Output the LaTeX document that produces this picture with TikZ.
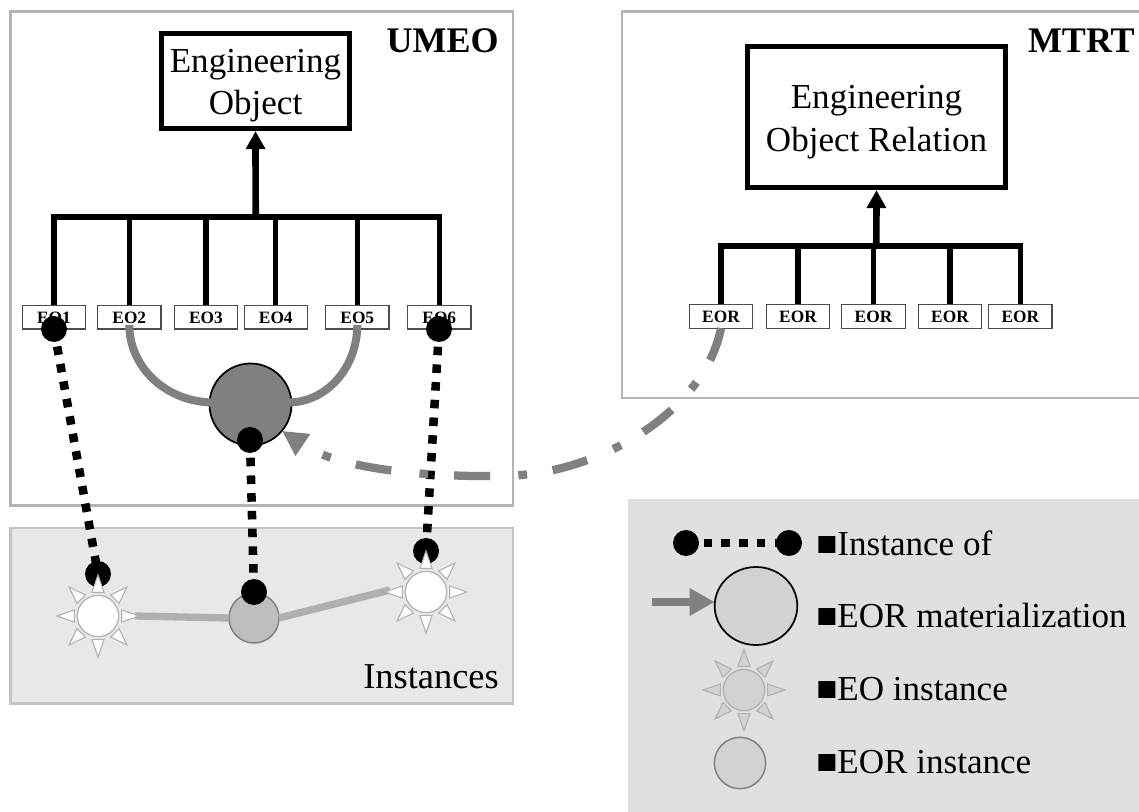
\documentclass[tikz,border=0pt]{standalone}
\usepackage{fontspec}
\setmainfont{Liberation Serif}
\usetikzlibrary{arrows.meta,shapes.geometric}
\definecolor{frameg}{HTML}{B4B4B4}
\definecolor{instg}{HTML}{C4C4C4}
\definecolor{instfill}{HTML}{E8E8E8}
\definecolor{legfill}{HTML}{E0E0E0}
\definecolor{midg}{HTML}{808080}
\definecolor{lineg}{HTML}{B0B0B0}
\definecolor{softg}{HTML}{D2D2D2}
\definecolor{instc}{HTML}{BEBEBE}
\tikzset{
  x=0.75pt,y=-0.75pt,
  bigtext/.style={font=\fontsize{26.3}{31}\selectfont,inner sep=0pt,align=center},
  boldtext/.style={font=\fontsize{27}{31}\selectfont\bfseries,inner sep=0pt},
  classbox/.style={draw=black,line width=4pt,fill=white,inner sep=0pt},
  leaf/.style={draw=black!70,line width=0.8pt,fill=white,minimum width=47.5pt,minimum height=17.7pt,inner sep=0pt,outer sep=0pt,text height=10pt,text depth=0pt,font=\fontsize{13}{15}\selectfont\bfseries},
  isa/.style={line width=4pt,draw=black},
  isaarrow/.style={line width=5pt,draw=black,-{Triangle[length=13.5pt,width=14pt]}},
  hook/.style={line width=6pt,draw=midg},
  dotline/.style={line width=6.4pt,draw=black,dash pattern=on 6.4pt off 6.9pt},
  blackdot/.style={circle,fill=black,inner sep=0pt,minimum size=19.5pt,outer sep=0pt},
  sundisc/.style={circle,draw=lineg,line width=0.9pt,inner sep=0pt,minimum size=31pt,outer sep=0pt},
  rayshape/.style={draw=lineg,line width=0.8pt,line join=miter},
  link/.style={line width=5.5pt,draw=lineg},
  legtext/.style={font=\fontsize{26.3}{31}\selectfont,inner sep=0pt,anchor=base west},
}
\newcommand{\sunrays}[2]{%
  \foreach \a in {0,45,...,315}{%
    \draw[rayshape,fill=#2,shift={(#1)}] (\a:41) -- (\a+14.2:24.45) -- (\a-14.2:24.45) -- cycle;}%
}
\begin{document}
\begin{tikzpicture}
\useasboundingbox (0,0) rectangle (1139,812);
% frames
\node[draw=frameg,line width=1.9pt,minimum width=377pt,minimum height=370.5pt,inner sep=0pt,outer sep=0pt] (umeo) at (261.7,258.3) {};
\draw[frameg,line width=1.9pt] (1139,11.5) -- (622,11.5) -- (622,398) -- (1139,398);
\node[draw=instg,fill=instfill,line width=1.9pt,minimum width=377pt,minimum height=131.5pt,inner sep=0pt,outer sep=0pt] (inst) at (261.7,615.7) {};
\node[fill=legfill,minimum width=383.3pt,minimum height=234.75pt,inner sep=0pt,outer sep=0pt] (legend) at (883.5,655.5) {};
% titles
\node[boldtext,anchor=base east] (umeot) at (499,53) {UMEO};
\node[boldtext,anchor=base east] (mtrtt) at (1135,53) {MTRT};
\node[bigtext,font=\fontsize{27.3}{31}\selectfont,anchor=base east] (instt) at (499,688) {Instances};
% class boxes
\node[classbox,minimum width=141pt,minimum height=71.25pt] (eo) at (255.5,81) {};
\node[bigtext] (eot) at (255.5,85.5) {Engineering\\[0.8pt]Object};
\node[classbox,minimum width=193.5pt,minimum height=105.75pt] (eor) at (876.5,117) {};
\node[bigtext] (eort) at (876.5,122) {Engineering\\[1.2pt]Object Relation};
% leaves UMEO
\node[leaf] (e1) at (54,317.2) {EO1};
\node[leaf] (e2) at (129.3,317.2) {EO2};
\node[leaf] (e3) at (206,317.2) {EO3};
\node[leaf] (e4) at (275.8,317.2) {EO4};
\node[leaf] (e5) at (357.3,317.2) {EO5};
\node[leaf] (e6) at (439.3,317.2) {EO6};
% leaves MTRT
\node[leaf] (r1) at (721,316.3) {EOR};
\node[leaf] (r2) at (798,316.3) {EOR};
\node[leaf] (r3) at (873.5,316.3) {EOR};
\node[leaf] (r4) at (950,316.3) {EOR};
\node[leaf] (r5) at (1020.3,316.3) {EOR};
% trees
\coordinate (busa) at (255.7,217);
\coordinate (busb) at (876.3,246);
\draw[isa,line join=miter] (e1.north) -- (e1.north |- busa) -- (e6.north |- busa) -- (e6.north);
\foreach \n in {e2,e3,e4,e5}{\draw[isa] (\n.north) -- (\n.north |- busa);}
\draw[isaarrow] (busa) -- (eo.south);
\draw[isa,line join=miter] (r1.north) -- (r1.north |- busb) -- (r5.north |- busb) -- (r5.north);
\foreach \n in {r2,r3,r4}{\draw[isa] (\n.north) -- (\n.north |- busb);}
\draw[isaarrow] (busb) -- (eor.south);
% materialization
\node[circle,draw=black,line width=1.3pt,fill=midg,inner sep=0pt,minimum size=61.5pt,outer sep=0pt] (mat) at (250.5,404.5) {};
\coordinate (hl) at (214,402.5);
\coordinate (hr) at (288,402.5);
\draw[hook] ([yshift=3pt]e2.south) .. controls (129.3,367) and (166,402.5) .. (hl);
\draw[hook] ([yshift=3pt]e5.south) .. controls (357.3,367) and (327,402.5) .. (hr);
% instance links
\node[circle,draw=midg,line width=1.1pt,fill=instc,inner sep=0pt,minimum size=37.5pt,outer sep=0pt] (ei) at (254,618) {};
\coordinate (s1e) at (135,616);
\coordinate (s2w) at (390,590);
\draw[link] (s1e) -- (ei.west);
\draw[link] (ei.east) -- (s2w);
% instance-of lines and dots
\node[blackdot] (d1) at (54,329) {};
\node[blackdot] (d2) at (439,329) {};
\node[blackdot] (d3) at (250,440) {};
\node[blackdot] (d4) at (98,574) {};
\node[blackdot] (d5) at (426,551) {};
\node[blackdot] (d6) at (254,592) {};
\draw[dotline] (d1.center) -- (d4.center);
\draw[dotline] (d2.center) -- (d5.center);
\draw[dotline] (d3.center) -- (d6.center);
% suns
\sunrays{98,616}{white}
\node[sundisc,fill=white] (s1) at (98,616) {};
\sunrays{426,592}{white}
\node[sundisc,fill=white] (s2) at (426,592) {};
% dash-dot arrow
\coordinate (curvemid) at (500,476);
\draw[midg,line width=6.2pt,dash pattern=on 27pt off 19.5pt on 6.5pt off 21.25pt,dash phase=1.5pt,-{Triangle[length=19pt,width=18.5pt]}]
  (r1.south) .. controls (705,410) and (600,476) .. (curvemid) .. controls (430,477) and (340,470) .. (mat.-40);
% legend
\node[blackdot] (l1) at (686,543) {};
\node[blackdot] (l2) at (789,543) {};
\draw[dotline] (l1.center) -- (l2.center);
\node[ellipse,draw=black,line width=1.3pt,fill=softg,inner sep=0pt,minimum width=62pt,minimum height=58.5pt,outer sep=0pt] (l3) at (756,606) {};
\coordinate (l3t) at (652,602);
\draw[midg,line width=6.5pt,-{Triangle[length=18.75pt,width=19.5pt]}] (l3t) -- (l3t -| l3.west);
\sunrays{744,690}{softg}
\node[sundisc,fill=softg] (l4) at (744,690) {};
\node[circle,draw=midg,line width=1.1pt,fill=softg,inner sep=0pt,minimum size=38.5pt,outer sep=0pt] (l5) at (740,763) {};
\node[legtext] (t1) at (816,556) {■Instance of};
\node[legtext] (t2) at (816,628) {■EOR materialization};
\node[legtext] (t3) at (816,700) {■EO instance};
\node[legtext] (t4) at (816,773) {■EOR instance};
\end{tikzpicture}
\end{document}
